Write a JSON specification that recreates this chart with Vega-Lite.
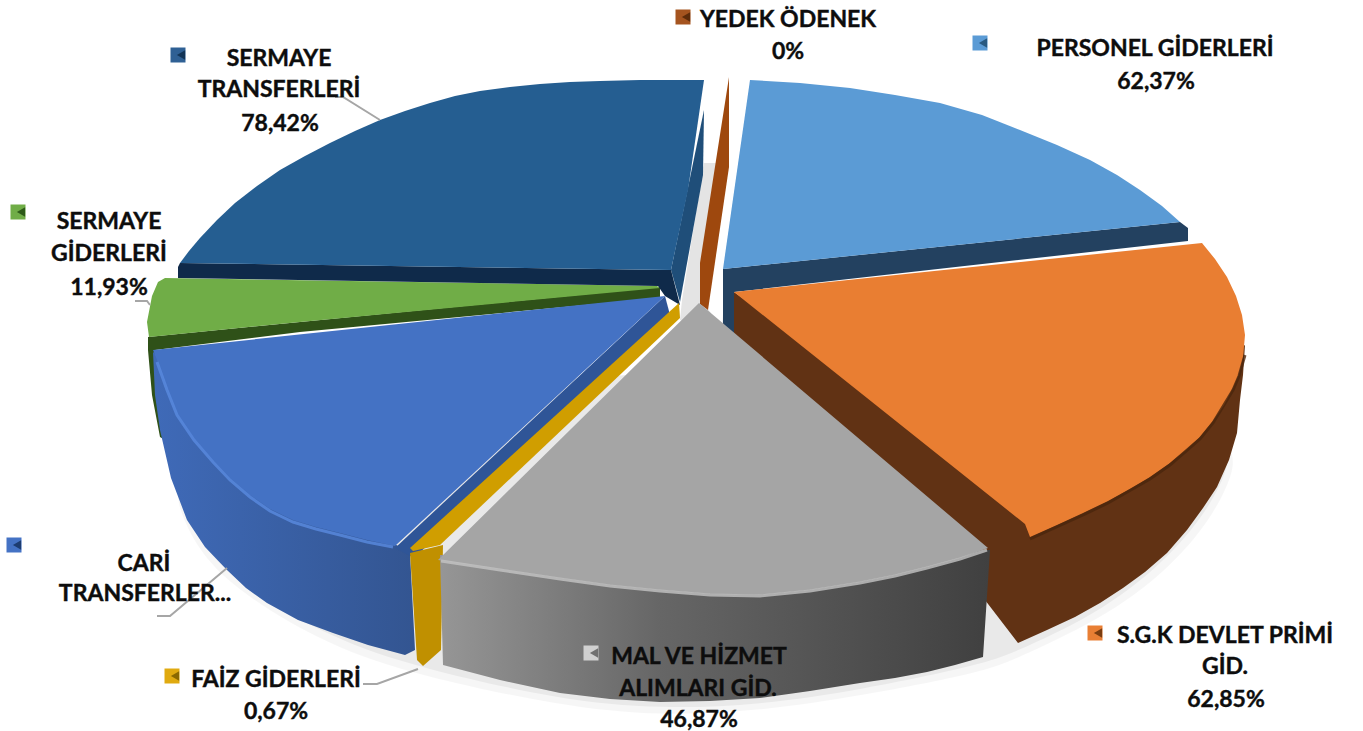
{"$schema":"https://vega.github.io/schema/vega-lite/v6.json","width":1363,"height":731,"padding":0,"autosize":{"type":"none"},"background":"white","config":{"view":{"stroke":null}},
"datasets":{"poly":[
{"piece":"shadowA","i":1,"x":160,"y":430},{"piece":"shadowA","i":2,"x":180,"y":525},{"piece":"shadowA","i":3,"x":225,"y":585},{"piece":"shadowA","i":4,"x":330,"y":647},{"piece":"shadowA","i":5,"x":420,"y":676},{"piece":"shadowA","i":6,"x":560,"y":706},{"piece":"shadowA","i":7,"x":660,"y":716},{"piece":"shadowA","i":8,"x":760,"y":711},{"piece":"shadowA","i":9,"x":860,"y":696},{"piece":"shadowA","i":10,"x":985,"y":672},{"piece":"shadowA","i":11,"x":1020,"y":657},{"piece":"shadowA","i":12,"x":1110,"y":615},{"piece":"shadowA","i":13,"x":1180,"y":560},{"piece":"shadowA","i":14,"x":1232,"y":490},{"piece":"shadowA","i":15,"x":1250,"y":400},{"piece":"shadowA","i":16,"x":700,"y":350},
{"piece":"shadowB","i":1,"x":160,"y":430},{"piece":"shadowB","i":2,"x":184,"y":522},{"piece":"shadowB","i":3,"x":228,"y":578},{"piece":"shadowB","i":4,"x":333,"y":640},{"piece":"shadowB","i":5,"x":420,"y":668},{"piece":"shadowB","i":6,"x":560,"y":700},{"piece":"shadowB","i":7,"x":660,"y":709},{"piece":"shadowB","i":8,"x":760,"y":705},{"piece":"shadowB","i":9,"x":860,"y":690},{"piece":"shadowB","i":10,"x":985,"y":664},{"piece":"shadowB","i":11,"x":1020,"y":650},{"piece":"shadowB","i":12,"x":1105,"y":610},{"piece":"shadowB","i":13,"x":1173,"y":555},{"piece":"shadowB","i":14,"x":1226,"y":487},{"piece":"shadowB","i":15,"x":1245,"y":400},{"piece":"shadowB","i":16,"x":700,"y":350},
{"piece":"gap","i":1,"x":704,"y":163},{"piece":"gap","i":2,"x":716,"y":163},{"piece":"gap","i":3,"x":702,"y":300},{"piece":"gap","i":4,"x":722,"y":330},{"piece":"gap","i":5,"x":726,"y":265},{"piece":"gap","i":6,"x":724,"y":340},{"piece":"gap","i":7,"x":680,"y":320},{"piece":"gap","i":8,"x":682,"y":300},
{"piece":"greenSide","i":1,"x":148,"y":337},{"piece":"greenSide","i":2,"x":300,"y":322},{"piece":"greenSide","i":3,"x":660,"y":287},{"piece":"greenSide","i":4,"x":660,"y":298},{"piece":"greenSide","i":5,"x":300,"y":332},{"piece":"greenSide","i":6,"x":155,"y":350},{"piece":"greenSide","i":7,"x":165,"y":440},{"piece":"greenSide","i":8,"x":160,"y":437},{"piece":"greenSide","i":9,"x":152,"y":395},{"piece":"greenSide","i":10,"x":148,"y":350},
{"piece":"greenTop","i":1,"x":165,"y":278},{"piece":"greenTop","i":2,"x":657,"y":286},{"piece":"greenTop","i":3,"x":660,"y":288},{"piece":"greenTop","i":4,"x":300,"y":322},{"piece":"greenTop","i":5,"x":149,"y":337},{"piece":"greenTop","i":6,"x":147,"y":322},{"piece":"greenTop","i":7,"x":152,"y":296},{"piece":"greenTop","i":8,"x":158,"y":282},
{"piece":"stSide","i":1,"x":704,"y":110},{"piece":"stSide","i":2,"x":703,"y":175},{"piece":"stSide","i":3,"x":680,"y":302},{"piece":"stSide","i":4,"x":671,"y":270},
{"piece":"stStrip","i":1,"x":178,"y":267},{"piece":"stStrip","i":2,"x":180,"y":263},{"piece":"stStrip","i":3,"x":671,"y":270},{"piece":"stStrip","i":4,"x":680,"y":305},{"piece":"stStrip","i":5,"x":665,"y":296},{"piece":"stStrip","i":6,"x":658,"y":286},{"piece":"stStrip","i":7,"x":178,"y":278},
{"piece":"stTop","i":1,"x":704,"y":80},{"piece":"stTop","i":2,"x":640,"y":80},{"piece":"stTop","i":3,"x":600,"y":81},{"piece":"stTop","i":4,"x":570,"y":82},{"piece":"stTop","i":5,"x":540,"y":84},{"piece":"stTop","i":6,"x":510,"y":87},{"piece":"stTop","i":7,"x":480,"y":91},{"piece":"stTop","i":8,"x":455,"y":96},{"piece":"stTop","i":9,"x":430,"y":103},{"piece":"stTop","i":10,"x":405,"y":111},{"piece":"stTop","i":11,"x":380,"y":120},{"piece":"stTop","i":12,"x":355,"y":131},{"piece":"stTop","i":13,"x":330,"y":143},{"piece":"stTop","i":14,"x":305,"y":156},{"piece":"stTop","i":15,"x":280,"y":170},{"piece":"stTop","i":16,"x":257,"y":186},{"piece":"stTop","i":17,"x":235,"y":203},{"piece":"stTop","i":18,"x":217,"y":220},{"piece":"stTop","i":19,"x":200,"y":238},{"piece":"stTop","i":20,"x":189,"y":251},{"piece":"stTop","i":21,"x":180,"y":263},{"piece":"stTop","i":22,"x":671,"y":270},{"piece":"stTop","i":23,"x":688,"y":190},
{"piece":"yedek","i":1,"x":729,"y":77},{"piece":"yedek","i":2,"x":729,"y":167},{"piece":"yedek","i":3,"x":708,"y":310},{"piece":"yedek","i":4,"x":700,"y":304},{"piece":"yedek","i":5,"x":700,"y":263},
{"piece":"perStrip","i":1,"x":723,"y":269},{"piece":"perStrip","i":2,"x":1180,"y":222},{"piece":"perStrip","i":3,"x":1188,"y":228},{"piece":"perStrip","i":4,"x":1188,"y":241},{"piece":"perStrip","i":5,"x":734,"y":292},{"piece":"perStrip","i":6,"x":736,"y":345},{"piece":"perStrip","i":7,"x":723,"y":333},
{"piece":"perTop","i":1,"x":750,"y":80},{"piece":"perTop","i":2,"x":800,"y":83},{"piece":"perTop","i":3,"x":850,"y":88},{"piece":"perTop","i":4,"x":895,"y":95},{"piece":"perTop","i":5,"x":940,"y":103},{"piece":"perTop","i":6,"x":982,"y":115},{"piece":"perTop","i":7,"x":1020,"y":130},{"piece":"perTop","i":8,"x":1057,"y":145},{"piece":"perTop","i":9,"x":1090,"y":160},{"piece":"perTop","i":10,"x":1117,"y":175},{"piece":"perTop","i":11,"x":1140,"y":190},{"piece":"perTop","i":12,"x":1162,"y":206},{"piece":"perTop","i":13,"x":1180,"y":222},{"piece":"perTop","i":14,"x":723,"y":269},
{"piece":"sgkWall","i":1,"x":1245,"y":345},{"piece":"sgkWall","i":2,"x":1243,"y":375},{"piece":"sgkWall","i":3,"x":1240,"y":400},{"piece":"sgkWall","i":4,"x":1237,"y":433},{"piece":"sgkWall","i":5,"x":1229,"y":460},{"piece":"sgkWall","i":6,"x":1217,"y":487},{"piece":"sgkWall","i":7,"x":1203,"y":508},{"piece":"sgkWall","i":8,"x":1187,"y":530},{"piece":"sgkWall","i":9,"x":1167,"y":553},{"piece":"sgkWall","i":10,"x":1145,"y":572},{"piece":"sgkWall","i":11,"x":1123,"y":588},{"piece":"sgkWall","i":12,"x":1100,"y":603},{"piece":"sgkWall","i":13,"x":1075,"y":617},{"piece":"sgkWall","i":14,"x":1047,"y":630},{"piece":"sgkWall","i":15,"x":1018,"y":643},{"piece":"sgkWall","i":16,"x":985,"y":600},{"piece":"sgkWall","i":17,"x":985,"y":565},{"piece":"sgkWall","i":18,"x":734,"y":350},{"piece":"sgkWall","i":19,"x":734,"y":292},{"piece":"sgkWall","i":20,"x":1028,"y":500},
{"piece":"sgkTop","i":1,"x":734,"y":292},{"piece":"sgkTop","i":2,"x":1202,"y":243},{"piece":"sgkTop","i":3,"x":1215,"y":259},{"piece":"sgkTop","i":4,"x":1227,"y":277},{"piece":"sgkTop","i":5,"x":1236,"y":296},{"piece":"sgkTop","i":6,"x":1242,"y":315},{"piece":"sgkTop","i":7,"x":1245,"y":335},{"piece":"sgkTop","i":8,"x":1243,"y":358},{"piece":"sgkTop","i":9,"x":1239,"y":374},{"piece":"sgkTop","i":10,"x":1233,"y":388},{"piece":"sgkTop","i":11,"x":1224,"y":405},{"piece":"sgkTop","i":12,"x":1213,"y":421},{"piece":"sgkTop","i":13,"x":1200,"y":437},{"piece":"sgkTop","i":14,"x":1186,"y":450},{"piece":"sgkTop","i":15,"x":1170,"y":463},{"piece":"sgkTop","i":16,"x":1150,"y":477},{"piece":"sgkTop","i":17,"x":1130,"y":489},{"piece":"sgkTop","i":18,"x":1108,"y":501},{"piece":"sgkTop","i":19,"x":1083,"y":513},{"piece":"sgkTop","i":20,"x":1057,"y":525},{"piece":"sgkTop","i":21,"x":1030,"y":537},{"piece":"sgkTop","i":22,"x":1025,"y":524},
{"piece":"cariWall","i":1,"x":153,"y":352},{"piece":"cariWall","i":2,"x":155,"y":395},{"piece":"cariWall","i":3,"x":160,"y":430},{"piece":"cariWall","i":4,"x":171,"y":478},{"piece":"cariWall","i":5,"x":187,"y":520},{"piece":"cariWall","i":6,"x":205,"y":547},{"piece":"cariWall","i":7,"x":227,"y":570},{"piece":"cariWall","i":8,"x":246,"y":588},{"piece":"cariWall","i":9,"x":267,"y":603},{"piece":"cariWall","i":10,"x":298,"y":620},{"piece":"cariWall","i":11,"x":333,"y":633},{"piece":"cariWall","i":12,"x":368,"y":645},{"piece":"cariWall","i":13,"x":405,"y":655},{"piece":"cariWall","i":14,"x":415,"y":650},{"piece":"cariWall","i":15,"x":410,"y":553},{"piece":"cariWall","i":16,"x":393,"y":543},
{"piece":"cariCut","i":1,"x":665,"y":296},{"piece":"cariCut","i":2,"x":670,"y":315},{"piece":"cariCut","i":3,"x":414,"y":558},{"piece":"cariCut","i":4,"x":395,"y":548},
{"piece":"cariTop","i":1,"x":665,"y":296},{"piece":"cariTop","i":2,"x":153,"y":350},{"piece":"cariTop","i":3,"x":157,"y":360},{"piece":"cariTop","i":4,"x":167,"y":388},{"piece":"cariTop","i":5,"x":177,"y":413},{"piece":"cariTop","i":6,"x":194,"y":438},{"piece":"cariTop","i":7,"x":213,"y":460},{"piece":"cariTop","i":8,"x":230,"y":478},{"piece":"cariTop","i":9,"x":250,"y":495},{"piece":"cariTop","i":10,"x":270,"y":509},{"piece":"cariTop","i":11,"x":293,"y":520},{"piece":"cariTop","i":12,"x":316,"y":527},{"piece":"cariTop","i":13,"x":340,"y":533},{"piece":"cariTop","i":14,"x":367,"y":540},{"piece":"cariTop","i":15,"x":395,"y":546},
{"piece":"faizWall","i":1,"x":410,"y":553},{"piece":"faizWall","i":2,"x":443,"y":545},{"piece":"faizWall","i":3,"x":441,"y":650},{"piece":"faizWall","i":4,"x":423,"y":666},{"piece":"faizWall","i":5,"x":417,"y":660},
{"piece":"faizTop","i":1,"x":679,"y":303},{"piece":"faizTop","i":2,"x":680,"y":318},{"piece":"faizTop","i":3,"x":440,"y":545},{"piece":"faizTop","i":4,"x":413,"y":551},{"piece":"faizTop","i":5,"x":410,"y":548},
{"piece":"malWall","i":1,"x":440,"y":555},{"piece":"malWall","i":2,"x":443,"y":665},{"piece":"malWall","i":3,"x":500,"y":680},{"piece":"malWall","i":4,"x":560,"y":693},{"piece":"malWall","i":5,"x":610,"y":699},{"piece":"malWall","i":6,"x":660,"y":702},{"piece":"malWall","i":7,"x":710,"y":701},{"piece":"malWall","i":8,"x":760,"y":698},{"piece":"malWall","i":9,"x":810,"y":691},{"piece":"malWall","i":10,"x":860,"y":683},{"piece":"malWall","i":11,"x":895,"y":678},{"piece":"malWall","i":12,"x":927,"y":672},{"piece":"malWall","i":13,"x":955,"y":665},{"piece":"malWall","i":14,"x":983,"y":657},{"piece":"malWall","i":15,"x":990,"y":550},
{"piece":"malTop","i":1,"x":699,"y":303},{"piece":"malTop","i":2,"x":988,"y":548},{"piece":"malTop","i":3,"x":960,"y":558},{"piece":"malTop","i":4,"x":927,"y":567},{"piece":"malTop","i":5,"x":895,"y":575},{"piece":"malTop","i":6,"x":860,"y":582},{"piece":"malTop","i":7,"x":810,"y":590},{"piece":"malTop","i":8,"x":760,"y":595},{"piece":"malTop","i":9,"x":710,"y":594},{"piece":"malTop","i":10,"x":660,"y":590},{"piece":"malTop","i":11,"x":610,"y":585},{"piece":"malTop","i":12,"x":560,"y":578},{"piece":"malTop","i":13,"x":500,"y":569},{"piece":"malTop","i":14,"x":438,"y":560}
],
"rims":[
{"piece":"cariRim","i":1,"x":157,"y":362},{"piece":"cariRim","i":2,"x":167,"y":390},{"piece":"cariRim","i":3,"x":177,"y":415},{"piece":"cariRim","i":4,"x":194,"y":440},{"piece":"cariRim","i":5,"x":213,"y":462},{"piece":"cariRim","i":6,"x":230,"y":480},{"piece":"cariRim","i":7,"x":250,"y":497},{"piece":"cariRim","i":8,"x":270,"y":511},{"piece":"cariRim","i":9,"x":293,"y":522},{"piece":"cariRim","i":10,"x":316,"y":529},{"piece":"cariRim","i":11,"x":340,"y":535},{"piece":"cariRim","i":12,"x":367,"y":542},{"piece":"cariRim","i":13,"x":393,"y":547},
{"piece":"malRim","i":1,"x":441,"y":561},{"piece":"malRim","i":2,"x":500,"y":570},{"piece":"malRim","i":3,"x":560,"y":579},{"piece":"malRim","i":4,"x":610,"y":586},{"piece":"malRim","i":5,"x":660,"y":591},{"piece":"malRim","i":6,"x":710,"y":595},{"piece":"malRim","i":7,"x":760,"y":596},{"piece":"malRim","i":8,"x":810,"y":591},{"piece":"malRim","i":9,"x":860,"y":583},{"piece":"malRim","i":10,"x":895,"y":576},{"piece":"malRim","i":11,"x":927,"y":568},{"piece":"malRim","i":12,"x":960,"y":559},{"piece":"malRim","i":13,"x":987,"y":550},
{"piece":"sgkRim","i":1,"x":1245,"y":355},{"piece":"sgkRim","i":2,"x":1239,"y":376},{"piece":"sgkRim","i":3,"x":1233,"y":390},{"piece":"sgkRim","i":4,"x":1213,"y":423},{"piece":"sgkRim","i":5,"x":1200,"y":439},{"piece":"sgkRim","i":6,"x":1170,"y":465},{"piece":"sgkRim","i":7,"x":1150,"y":479},{"piece":"sgkRim","i":8,"x":1108,"y":503},{"piece":"sgkRim","i":9,"x":1083,"y":515},{"piece":"sgkRim","i":10,"x":1030,"y":539}
],
"leaders":[
{"leader":"st","i":1,"x":380,"y":120},{"leader":"st","i":2,"x":343,"y":97},{"leader":"st","i":3,"x":335,"y":97},
{"leader":"sg","i":1,"x":150,"y":305},{"leader":"sg","i":2,"x":147,"y":301},{"leader":"sg","i":3,"x":135,"y":301},
{"leader":"ct","i":1,"x":227,"y":568},{"leader":"ct","i":2,"x":170,"y":616},{"leader":"ct","i":3,"x":157,"y":616},
{"leader":"fg","i":1,"x":418,"y":669},{"leader":"fg","i":2,"x":377,"y":684},{"leader":"fg","i":3,"x":363,"y":684}
],
"labels":[
{"label":"YEDEK ÖDENEK","x":788,"y":20},{"label":"0%","x":788,"y":52},
{"label":"PERSONEL GİDERLERİ","x":1155,"y":49},{"label":"62,37%","x":1156,"y":82},
{"label":"SERMAYE","x":279,"y":59},{"label":"TRANSFERLERİ","x":279,"y":90},{"label":"78,42%","x":280,"y":124},
{"label":"SERMAYE","x":109,"y":222},{"label":"GİDERLERİ","x":109,"y":254},{"label":"11,93%","x":109,"y":288},
{"label":"CARİ","x":144,"y":564},{"label":"TRANSFERLER...","x":145,"y":594},
{"label":"FAİZ GİDERLERİ","x":276,"y":680},{"label":"0,67%","x":276,"y":712},
{"label":"MAL VE HİZMET","x":699,"y":657},{"label":"ALIMLARI GİD.","x":698,"y":689},{"label":"46,87%","x":699,"y":720},
{"label":"S.G.K DEVLET PRİMİ","x":1225,"y":636},{"label":"GİD.","x":1225,"y":667},{"label":"62,85%","x":1226,"y":700}
],
"markers":[
{"item":"YEDEK ÖDENEK","x":683,"y":17,"base":"#a5541f","dark":"#5e2c0a"},
{"item":"PERSONEL GİDERLERİ","x":980,"y":43,"base":"#5b9bd5","dark":"#2a5a80"},
{"item":"SERMAYE TRANSFERLERİ","x":178,"y":55,"base":"#2f6094","dark":"#123456"},
{"item":"SERMAYE GİDERLERİ","x":18,"y":212,"base":"#70ad47","dark":"#2d5a18"},
{"item":"CARİ TRANSFERLER","x":14,"y":545,"base":"#4472c4","dark":"#1d3c70"},
{"item":"FAİZ GİDERLERİ","x":172,"y":676,"base":"#e0aa10","dark":"#8a6800"},
{"item":"MAL VE HİZMET","x":591,"y":653,"base":"#d0d0d0","dark":"#707070"},
{"item":"S.G.K DEVLET PRİMİ","x":1095,"y":633,"base":"#e97f34","dark":"#7a3d10"}
]},
"encoding":{
"x":{"field":"x","type":"quantitative","scale":{"domain":[0,1363],"nice":false,"zero":false},"axis":null},
"y":{"field":"y","type":"quantitative","scale":{"domain":[0,731],"reverse":true,"nice":false,"zero":false},"axis":null}},
"layer":[
{"data":{"name":"poly"},"transform":[{"filter":{"field":"piece","oneOf":["shadowA"]}}],"mark":{"type":"line","filled":true,"fill":"#000000","opacity":0.035,"interpolate":"basis-closed"},"encoding":{"order":{"field":"i"}}},
{"data":{"name":"poly"},"transform":[{"filter":{"field":"piece","oneOf":["shadowB"]}}],"mark":{"type":"line","filled":true,"fill":"#000000","opacity":0.05,"interpolate":"basis-closed"},"encoding":{"order":{"field":"i"}}},
{"data":{"name":"poly"},"transform":[{"filter":{"field":"piece","oneOf":["gap"]}}],"mark":{"type":"line","filled":true,"fill":"#e4e4e4"},"encoding":{"order":{"field":"i"}}},
{"data":{"name":"poly"},"transform":[{"filter":{"field":"piece","oneOf":["stTop","stSide","stStrip","greenSide","greenTop","yedek","perTop","perStrip","sgkWall","sgkTop"]}}],"mark":{"type":"line","filled":true},
"encoding":{"order":{"field":"i"},"color":{"field":"piece","type":"nominal","legend":null,
"scale":{"domain":["stTop","stSide","stStrip","greenSide","greenTop","yedek","perTop","perStrip","sgkWall","sgkTop","cariCut","cariTop","faizWall","faizTop","malTop"],"range":["#255e91","#1f4e79","#0f2a4a","#2f5118","#70ad47","#9e480e","#5b9bd5","#234160","#613214","#e97e32","#2f5597","#4472c4","#c09000","#d09e00","#a5a5a5"]}}}},
{"data":{"name":"poly"},"transform":[{"filter":{"field":"piece","oneOf":["cariWall"]}}],"mark":{"type":"line","filled":true,"fill":{"x1":0,"y1":0,"x2":1,"y2":0,"gradient":"linear","stops":[{"offset":0,"color":"#3f6ab8"},{"offset":1,"color":"#335591"}]}},"encoding":{"order":{"field":"i"}}},
{"data":{"name":"poly"},"transform":[{"filter":{"field":"piece","oneOf":["cariCut","cariTop","faizWall","faizTop"]}}],"mark":{"type":"line","filled":true},"encoding":{"order":{"field":"i"},"color":{"field":"piece","type":"nominal","legend":null}}},
{"data":{"name":"poly"},"transform":[{"filter":{"field":"piece","oneOf":["malWall"]}}],"mark":{"type":"line","filled":true,"fill":{"x1":0,"y1":0,"x2":1,"y2":0,"gradient":"linear","stops":[{"offset":0,"color":"#969696"},{"offset":0.4,"color":"#666666"},{"offset":1,"color":"#404040"}]}},"encoding":{"order":{"field":"i"}}},
{"data":{"name":"poly"},"transform":[{"filter":{"field":"piece","oneOf":["malTop"]}}],"mark":{"type":"line","filled":true},"encoding":{"order":{"field":"i"},"color":{"field":"piece","type":"nominal","legend":null}}},
{"data":{"name":"rims"},"mark":{"type":"line","strokeWidth":3,"opacity":0.8},"encoding":{"order":{"field":"i"},"stroke":{"field":"piece","type":"nominal","legend":null,"scale":{"domain":["cariRim","malRim","sgkRim"],"range":["#5a8be0","#c4c4c4","#4a260c"]}}}},
{"data":{"name":"leaders"},"mark":{"type":"line","stroke":"#a6a6a6","strokeWidth":2},"encoding":{"order":{"field":"i"},"detail":{"field":"leader"}}},
{"data":{"name":"markers"},"mark":{"type":"square","size":225,"opacity":1},"encoding":{"fill":{"field":"base","type":"nominal","scale":null,"legend":null},"stroke":{"value":null}}},
{"data":{"name":"markers"},"mark":{"type":"point","shape":"triangle-left","filled":true,"size":90,"xOffset":3,"opacity":1},"encoding":{"fill":{"field":"dark","type":"nominal","scale":null,"legend":null}}},
{"data":{"name":"labels"},"mark":{"type":"text","font":"Lato","fontWeight":"bold","fontSize":23,"fill":"#0d0d0d","stroke":"#0d0d0d","strokeWidth":0.4,"align":"center","baseline":"middle"},"encoding":{"text":{"field":"label","type":"nominal"}}}
]}
